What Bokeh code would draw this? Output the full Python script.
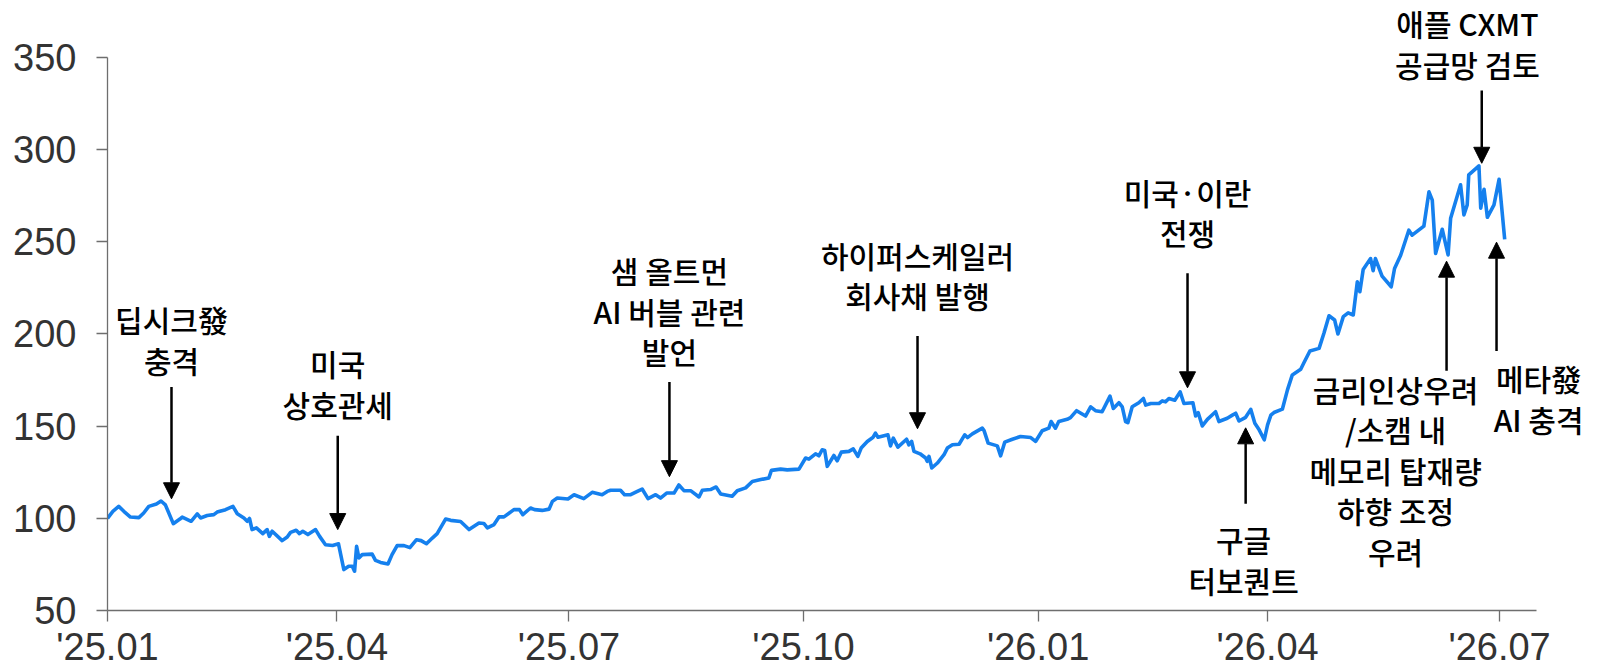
import pandas as pd
from bokeh.plotting import figure
from bokeh.models import ColumnDataSource, Range1d, FixedTicker, Arrow, NormalHead
from bokeh.core.properties import value
from bokeh.embed import file_html
from bokeh.resources import INLINE

# ---- data (x = calendar days since 2025-01-01, y = index level) ----
days = [0.0, 2.1, 4.4, 6.4, 9.0, 12.3, 14.2, 16.2, 19.2, 21.0, 22.7, 25.8, 28.4, 29.3, 32.8, 35.2,
        36.5, 39.1, 41.7, 43.0, 46.3, 49.2, 50.9, 53.5, 54.8, 55.7, 56.7, 58.4, 60.9, 62.6, 63.5,
        64.6, 68.5, 70.5, 71.8, 74.0, 75.3, 76.6, 78.6, 81.6, 83.2, 85.5, 88.3, 90.6, 92.7, 94.6,
        96.0, 96.9, 97.7, 98.6, 99.9, 103.8, 105.1, 107.1, 110.0, 111.6, 113.6, 116.3, 118.6,
        121.2, 123.0, 125.1, 127.4, 129.3, 132.6, 134.6, 138.5, 141.8, 145.7, 147.6, 149.0,
        151.6, 153.6, 155.5, 159.4, 161.6, 162.9, 165.9, 167.5, 170.5, 173.2, 174.5, 176.4,
        180.6, 183.0, 186.8, 190.1, 194.0, 196.0, 197.3, 201.2, 202.8, 205.2, 207.8, 209.7,
        212.0, 215.0, 216.9, 219.3, 222.2, 224.1, 226.1, 228.7, 232.0, 233.3, 236.5, 238.7,
        240.5, 245.0, 247.0, 250.3, 252.9, 256.2, 259.4, 260.4, 264.0, 266.6, 271.2, 273.8,
        275.1, 277.7, 279.0, 280.3, 281.3, 282.3, 284.9, 286.2, 287.8, 290.8, 292.5, 294.3,
        295.6, 298.0, 300.3, 301.2, 302.2, 306.1, 307.1, 308.2, 310.0, 313.4, 314.3, 315.4,
        316.3, 318.7, 320.9, 321.5, 322.2, 323.3, 325.5, 328.1, 329.4, 331.4, 334.0, 336.2,
        337.3, 339.2, 343.1, 343.8, 345.4, 349.0, 350.3, 351.9, 354.9, 358.1, 362.1, 364.0,
        366.6, 369.2, 370.1, 371.8, 373.1, 376.4, 377.7, 380.1, 383.6, 385.6, 387.5, 390.1,
        393.2, 394.5, 396.7, 398.0, 399.3, 400.2, 401.9, 404.5, 406.3, 407.2, 409.2, 412.4,
        413.7, 415.0, 416.3, 418.6, 420.7, 422.2, 425.7, 426.8, 427.8, 429.4, 431.4, 434.6,
        435.9, 439.2, 441.2, 442.5, 443.8, 446.4, 448.4, 450.0, 451.7, 453.7, 455.0, 456.3,
        457.5, 460.8, 462.8, 464.7, 468.0, 469.3, 471.6, 475.2, 477.1, 479.1, 481.3, 482.6,
        484.7, 486.6, 488.6, 490.2, 491.2, 492.5, 495.4, 496.4, 497.3, 499.9, 503.5, 504.8,
        507.2, 510.4, 511.7, 516.3, 518.3, 519.6, 520.9, 523.5, 525.8, 526.8, 530.7, 532.0,
        533.3, 533.9, 537.9, 538.6, 539.9, 541.2, 543.8, 545.8, 548.0]
index_level = [100.0, 103.8, 106.5, 103.8, 100.7, 100.4, 102.9, 106.5, 107.8, 109.4, 107.3, 97.1,
               99.6, 100.7, 98.4, 102.4, 100.2, 101.5, 102.0, 103.4, 104.7, 106.5, 102.5, 100.2,
               98.4, 99.9, 93.9, 94.8, 91.7, 93.9, 90.2, 93.0, 87.9, 89.9, 92.4, 93.5, 91.7, 93.0,
               91.2, 93.9, 90.2, 85.7, 85.3, 86.2, 72.2, 74.0, 74.0, 71.3, 84.8, 78.5, 80.3, 80.6,
               77.2, 76.1, 75.2, 80.3, 85.2, 85.2, 84.1, 88.4, 87.9, 86.2, 89.3, 91.7, 99.6, 98.9,
               98.3, 93.9, 97.5, 97.2, 94.8, 96.6, 100.8, 100.8, 104.7, 104.7, 102.0, 105.6, 104.7,
               104.3, 105.0, 109.2, 111.0, 110.5, 112.8, 110.7, 114.1, 112.8, 114.6, 115.2, 115.2,
               112.8, 112.8, 114.6, 115.9, 110.7, 112.8, 111.0, 113.7, 113.7, 118.1, 115.0, 115.0,
               111.6, 115.2, 115.6, 117.0, 113.2, 112.0, 115.0, 116.5, 120.0, 121.0, 121.9, 126.0,
               126.7, 126.3, 126.7, 132.7, 132.1, 135.0, 133.9, 137.2, 136.8, 128.2, 134.1, 131.2,
               135.9, 136.3, 137.7, 133.6, 138.1, 141.7, 144.0, 146.2, 144.0, 145.3, 139.3, 143.5,
               138.6, 142.9, 139.9, 141.7, 136.3, 135.0, 132.7, 130.9, 133.6, 127.3, 130.0, 134.5,
               138.1, 139.9, 140.2, 145.3, 143.8, 145.8, 148.9, 147.6, 140.8, 139.3, 133.9, 141.3,
               142.9, 144.4, 143.8, 141.7, 147.5, 148.9, 152.5, 148.9, 152.5, 153.7, 154.6, 158.4,
               155.5, 160.5, 158.4, 157.8, 166.3, 159.6, 162.7, 160.5, 152.5, 151.9, 160.5, 162.7,
               165.0, 161.4, 162.3, 162.3, 163.7, 163.2, 165.0, 164.1, 168.6, 162.3, 162.7, 155.5,
               157.3, 150.1, 153.7, 157.8, 152.5, 154.3, 156.0, 157.0, 152.8, 154.8, 159.1, 151.6,
               148.0, 142.6, 150.7, 156.0, 157.4, 159.2, 169.7, 177.8, 180.9, 184.5, 190.8, 192.2,
               200.4, 209.9, 207.6, 200.0, 209.4, 211.5, 210.3, 228.3, 222.9, 235.0, 240.9, 234.3,
               240.9, 231.4, 225.6, 235.5, 242.7, 256.3, 253.6, 258.5, 277.1, 272.6, 243.7, 256.8,
               242.9, 262.8, 280.9, 264.6, 270.0, 286.3, 291.2, 268.2, 278.5, 263.3, 270.0, 283.9,
               251.3]

tick_dates = ["2025-01-01", "2025-04-01", "2025-07-01", "2025-10-01",
              "2026-01-01", "2026-04-01", "2026-07-01"]
tick_labels = ["'25.01", "'25.04", "'25.07", "'25.10", "'26.01", "'26.04", "'26.07"]
y_ticks = [50, 100, 150, 200, 250, 300, 350]

# annotations: text, text anchor (day, level), arrow (day, from level, to level)
ann_text = ["딥시크發\n충격", "미국\n상호관세", "샘 올트먼\nAI 버블 관련\n발언",
            "하이퍼스케일러\n회사채 발행", "미국·이란\n전쟁", "구글\n터보퀀트",
            "애플 CXMT\n공급망 검토", "금리인상우려\n/소캠 내\n메모리 탑재량\n하향 조정\n우려",
            "메타發\nAI 충격"]
ann_x = [25.1, 90.3, 220.4, 317.7, 423.6, 445.6, 533.4, 505.2, 561.3]
ann_y = [197.0, 173.2, 212.5, 232.0, 266.3, 77.6, 357.6, 126.4, 165.1]
arrow_x = [25.1, 90.3, 220.4, 317.7, 423.6, 446.4, 539.0, 525.2, 544.8]
arrow_from = [171.3, 144.8, 174.0, 198.9, 233.0, 107.9, 332.1, 180.0, 190.8]
arrow_to = [110.6, 93.9, 122.6, 148.6, 170.8, 149.1, 292.6, 239.5, 249.8]

base = pd.Timestamp("2025-01-01")
tick_pos = [int((pd.Timestamp(d) - base).days) for d in tick_dates]

p = figure(width=1597, height=670, output_backend="svg", toolbar_location=None,
           x_range=Range1d(0, 584.4), y_range=Range1d(50, 380.9),
           min_border_left=107, min_border_right=0, min_border_top=0, min_border_bottom=59)
p.outline_line_color = None
p.grid.grid_line_color = None
p.background_fill_color = "white"
p.border_fill_color = "white"

src = ColumnDataSource(dict(x=days, y=index_level))
p.line("x", "y", source=src, line_color="#1580EE", line_width=3.6, line_join="round")

# axes
p.xaxis.ticker = FixedTicker(ticks=tick_pos)
p.xaxis.major_label_overrides = {t: l for t, l in zip(tick_pos, tick_labels)}
p.xaxis.bounds = (0, 560.5)
p.yaxis.ticker = FixedTicker(ticks=y_ticks)
p.yaxis.bounds = (50, 350)
for ax in (p.xaxis[0], p.yaxis[0]):
    ax.axis_line_color = "#6e6e6e"
    ax.axis_line_width = 1.3
    ax.major_tick_line_color = "#6e6e6e"
    ax.major_tick_line_width = 1.3
    ax.major_tick_in = 0
    ax.major_tick_out = 11
    ax.minor_tick_line_color = None
    ax.major_label_text_font = "Liberation Sans"
    ax.major_label_text_font_size = "38px"
    ax.major_label_text_color = "#333333"
p.yaxis.major_label_standoff = 20
p.xaxis.major_label_standoff = 4

# annotations
p.text(x=ann_x, y=ann_y, text=ann_text, text_align="center", text_baseline="middle",
       text_font=value("Noto Sans CJK KR Medium"), text_font_size="30px", text_color="black",
       text_line_height=0.92)
for ax_, a0, a1 in zip(arrow_x, arrow_from, arrow_to):
    p.add_layout(Arrow(end=NormalHead(size=16, fill_color="black", line_color="black", line_width=1),
                       x_start=ax_, y_start=a0, x_end=ax_, y_end=a1,
                       line_color="black", line_width=2.5))

open("out.html", "w").write(file_html(p, INLINE))
